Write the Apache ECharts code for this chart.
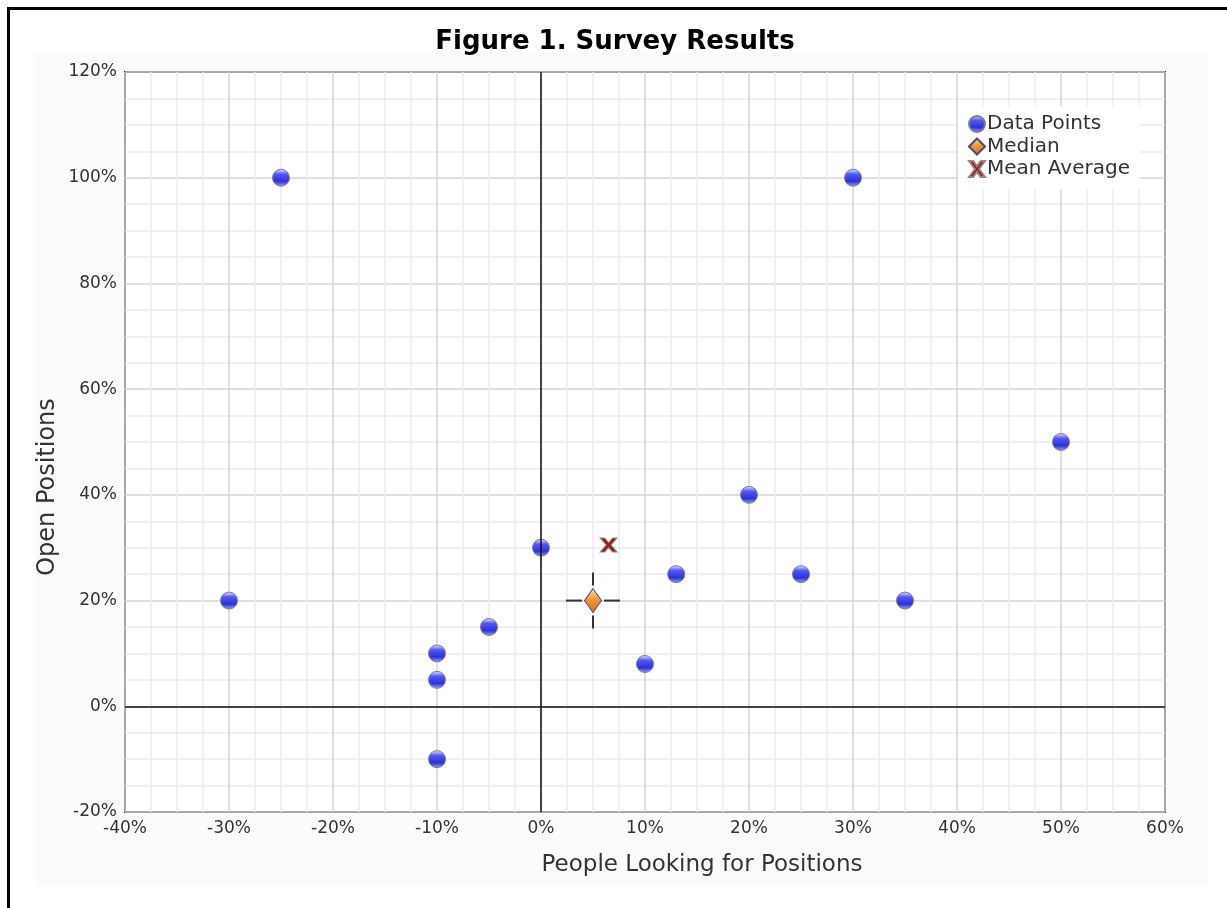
<!DOCTYPE html>
<html>
<head>
<meta charset="utf-8">
<script src="https://cdn.jsdelivr.net/npm/echarts@6/dist/echarts.min.js"></script>
<style>
html,body{margin:0;padding:0;background:#fff;}
#chart{width:1227px;height:908px;}
</style>
</head>
<body>
<div id="chart"></div>
<script>
// ---- data (percent units) ----
var pointsX = [-25, 30, 50, 20, 0, 13, 25, 35, -30, -5, 10, -10, -10, -10];
var pointsY = [100, 100, 50, 40, 30, 25, 25, 20, 20, 15, 8, 10, 5, -10];
var medianXY = [5, 20];
var meanXY = [6.5, 30.5];
var xTicks = {min: -40, max: 60, interval: 10};
var yTicks = {min: -20, max: 120, interval: 20};
var legendNames = ['Data Points', 'Median', 'Mean Average'];
var titleText = 'Figure 1. Survey Results';
var xName = 'People Looking for Positions';
var yName = 'Open Positions';

var FONT = 'DejaVu Sans';
var xPath = 'path://M0,0 L3.2,0 L6,4 L8.8,0 L12,0 L7.6,6 L12,12 L8.8,12 L6,8 L3.2,12 L0,12 L4.4,6 Z';

var pts = pointsX.map(function (x, i) { return [x, pointsY[i]]; });

var chart = echarts.init(document.getElementById('chart'), null, {renderer: 'canvas'});

var blueBall = {
  type: 'linear', x: 0, y: 0, x2: 0, y2: 1,
  colorStops: [
    {offset: 0, color: '#eef0ff'},
    {offset: 0.3, color: '#5258f2'},
    {offset: 0.7, color: '#2e32d2'},
    {offset: 1, color: '#a0a6ff'}
  ]
};
var orangeDiamond = {
  type: 'linear', x: 0, y: 0, x2: 0, y2: 1,
  colorStops: [
    {offset: 0, color: '#ffe0b8'},
    {offset: 0.45, color: '#f0963a'},
    {offset: 1, color: '#d87010'}
  ]
};

var option = {
  backgroundColor: '#fff',
  animation: false,
  graphic: [
    {type: 'rect', z: -10, shape: {x: 35, y: 52, width: 1172, height: 834}, style: {fill: '#fbfbfb'}},
    {type: 'rect', z: 100, shape: {x: 8.5, y: 8.5, width: 1400, height: 1100}, style: {fill: null, stroke: '#000', lineWidth: 3}},
    {type: 'text', z: 50, x: 702, y: 865,
      style: {text: xName, fontFamily: FONT, fontSize: 23, fill: '#333', align: 'center', verticalAlign: 'middle'}},
    {type: 'text', z: 50, x: 48, y: 487, rotation: Math.PI / 2,
      style: {text: yName, fontFamily: FONT, fontSize: 24, fill: '#333', align: 'center', verticalAlign: 'middle'}}
  ],
  title: {
    text: titleText,
    left: 610,
    textAlign: 'center',
    top: 24,
    textStyle: {fontFamily: FONT, fontSize: 26, fontWeight: 'bold', color: '#000'}
  },
  legend: {
    orient: 'vertical',
    left: 958,
    top: 106,
    padding: [8, 10, 10, 10],
    backgroundColor: '#fff',
    itemWidth: 16,
    itemHeight: 16,
    itemGap: 2.5,
    textStyle: {fontFamily: FONT, fontSize: 20, color: '#333', padding: [0, 0, 0, -3]},
    data: [
      {name: legendNames[0], icon: 'circle'},
      {name: legendNames[1], icon: 'diamond'},
      {name: legendNames[2], icon: xPath}
    ]
  },
  grid: {
    left: 125, top: 72, width: 1040, height: 740,
    show: true, backgroundColor: '#fff', borderColor: '#222', borderWidth: 2
  },
  xAxis: {
    type: 'value',
    min: xTicks.min, max: xTicks.max, interval: xTicks.interval,
    axisLine: {show: false},
    axisTick: {show: false},
    axisLabel: {fontFamily: FONT, fontSize: 17, color: '#333', margin: 8, formatter: '{value}%'},
    splitLine: {show: true, lineStyle: {color: '#d4d4d4', width: 1.5}},
    minorTick: {show: false, splitNumber: 4},
    minorSplitLine: {show: true, lineStyle: {color: '#ececec', width: 1.5}}
  },
  yAxis: {
    type: 'value',
    min: yTicks.min, max: yTicks.max, interval: yTicks.interval,
    axisLine: {show: false},
    axisTick: {show: false},
    axisLabel: {fontFamily: FONT, fontSize: 17, color: '#333', margin: 8, formatter: '{value}%'},
    splitLine: {show: true, lineStyle: {color: '#d4d4d4', width: 1.5}},
    minorTick: {show: false, splitNumber: 4},
    minorSplitLine: {show: true, lineStyle: {color: '#ececec', width: 1.5}}
  },
  series: [
    {
      name: 'zeroLines',
      type: 'scatter',
      data: [],
      z: 1,
      silent: true,
      markLine: {
        silent: true,
        symbol: 'none',
        label: {show: false},
        lineStyle: {color: '#111', width: 1.5, type: 'solid'},
        data: [{xAxis: 0}, {yAxis: 0}]
      }
    },
    {
      name: 'medianCross',
      type: 'custom',
      z: 2,
      silent: true,
      data: [medianXY],
      renderItem: function (params, api) {
        var c = api.coord([api.value(0), api.value(1)]);
        var st = {stroke: '#333', lineWidth: 2};
        return {
          type: 'group',
          children: [
            {type: 'line', shape: {x1: c[0] - 27, y1: c[1], x2: c[0] - 11, y2: c[1]}, style: st},
            {type: 'line', shape: {x1: c[0] + 11, y1: c[1], x2: c[0] + 27, y2: c[1]}, style: st},
            {type: 'line', shape: {x1: c[0], y1: c[1] - 28, x2: c[0], y2: c[1] - 15}, style: st},
            {type: 'line', shape: {x1: c[0], y1: c[1] + 15, x2: c[0], y2: c[1] + 28}, style: st}
          ]
        };
      }
    },
    {
      name: legendNames[0],
      type: 'scatter',
      z: 3,
      symbol: 'circle',
      symbolSize: 17,
      itemStyle: {color: blueBall, borderColor: '#7a7a9a', borderWidth: 1, opacity: 1},
      data: pts
    },
    {
      name: legendNames[1],
      type: 'scatter',
      z: 4,
      symbol: 'diamond',
      symbolSize: [17, 24],
      itemStyle: {color: orangeDiamond, borderColor: '#4a4a80', borderWidth: 1, opacity: 1},
      data: [medianXY]
    },
    {
      name: legendNames[2],
      type: 'scatter',
      z: 4,
      symbol: xPath,
      symbolSize: [17, 14],
      itemStyle: {color: '#8a1c1c', borderColor: '#a08080', borderWidth: 1, opacity: 1},
      data: [meanXY]
    }
  ]
};
chart.setOption(option);
</script>
</body>
</html>
